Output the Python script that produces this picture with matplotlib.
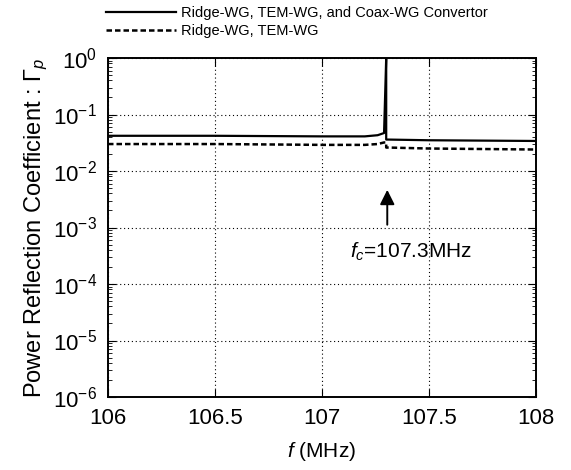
import matplotlib
matplotlib.use("Agg")
import matplotlib.pyplot as plt
from matplotlib.ticker import LogLocator, NullFormatter

plt.rcParams["font.family"] = ["Liberation Sans", "DejaVu Sans"]
plt.rcParams["mathtext.fontset"] = "custom"
plt.rcParams["mathtext.rm"] = "Liberation Sans"
plt.rcParams["mathtext.it"] = "Liberation Sans:italic"

# frequency [MHz]
freq = [106.0, 106.5, 107.0, 107.2, 107.26, 107.29, 107.3, 107.3, 107.31, 107.5, 108.0]
# Ridge-WG, TEM-WG and Coax-WG convertor
gamma_full = [0.042, 0.042, 0.041, 0.041, 0.043, 0.047, 1.0, 0.036, 0.036, 0.035, 0.034]
# Ridge-WG, TEM-WG only
gamma_wg = [0.030, 0.030, 0.029, 0.029, 0.030, 0.032, 0.032, 0.026, 0.026, 0.025, 0.024]

labels = ["Ridge-WG, TEM-WG, and Coax-WG Convertor", "Ridge-WG, TEM-WG"]
fc = 107.3

fig = plt.figure(figsize=(5.71, 4.70), dpi=100)
ax = fig.add_axes([108 / 571, 73 / 470, 428 / 571, 339 / 470])

l1, = ax.semilogy(freq, gamma_full, color="black", lw=1.6)
l2, = ax.semilogy(freq, gamma_wg, color="black", lw=1.8, ls=(0, (2.2, 1.2)))

ax.set_xlim(106, 108)
ax.set_ylim(1e-6, 1)
ax.set_xticks([106, 106.5, 107, 107.5, 108])
ax.set_xticklabels(["106", "106.5", "107", "107.5", "108"])
ax.yaxis.set_major_locator(LogLocator(base=10, numticks=10))
ax.yaxis.set_minor_locator(LogLocator(base=10, subs=range(2, 10), numticks=20))
ax.yaxis.set_minor_formatter(NullFormatter())
ax.tick_params(which="both", direction="in", top=True, right=True, labelsize=16)
ax.tick_params(which="major", length=6, pad=8)
ax.tick_params(which="minor", length=3)
ax.grid(True, which="major", color="black", ls=(0, (1, 2.5)), lw=0.8)
for s in ax.spines.values():
    s.set_linewidth(1.4)

ax.set_xlabel("$f$ (MHz)", fontsize=15, labelpad=8)
ax.set_ylabel(r"Power Reflection Coefficient : $\Gamma_p$", fontsize=17, labelpad=2)

ax.annotate("", xy=(fc + 0.005, 0.0052), xytext=(fc + 0.005, 0.001),
            arrowprops=dict(arrowstyle="-|>", color="black", lw=1.4, mutation_scale=22))
ax.text(fc - 0.17, 0.00037, "$f_c$=107.3MHz", fontsize=15, va="center")

fig.legend([l1, l2], labels, loc="upper left", bbox_to_anchor=(100 / 571, 1.0),
           frameon=False, prop={"size": 10.5},
           handlelength=4.8, labelspacing=0.3, borderaxespad=0, handletextpad=0.35)

fig.savefig("out.png", dpi=100)
